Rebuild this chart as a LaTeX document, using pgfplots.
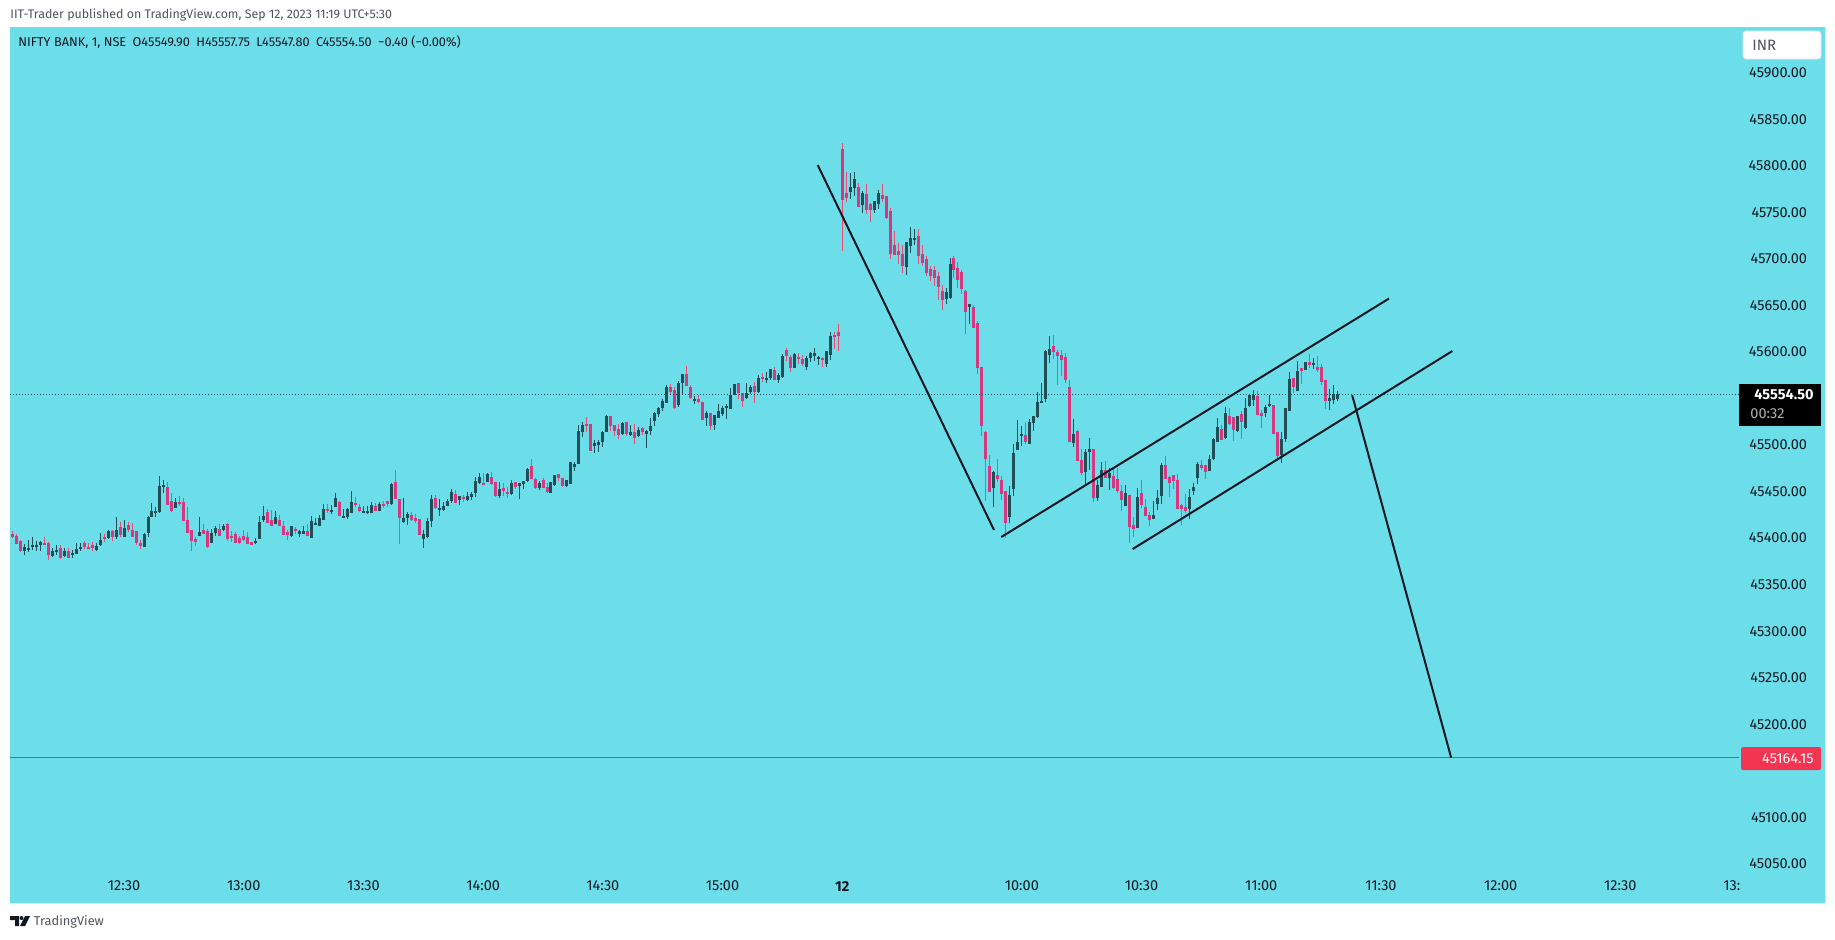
\documentclass[border=0pt]{standalone}
\usepackage{fontspec}
\usepackage{pgfplots}
\usepackage{pgfplotstable}
\pgfplotsset{compat=1.18}
\setmainfont{Fira Sans}
\definecolor{bgc}{HTML}{6BDEEA}
\definecolor{upc}{HTML}{1F4E56}
\definecolor{dnb}{HTML}{D5387E}
\definecolor{dnw}{HTML}{EE4B73}
\definecolor{frame}{HTML}{E0E3EB}
\definecolor{txt}{HTML}{131722}
\definecolor{hdr}{HTML}{50535E}
\definecolor{lvl}{HTML}{F23645}
\pgfplotstableread{
k o h l c
-1 45386.1 45393.7 45381.8 45390.4
0 45388.3 45398.0 45385.1 45389.4
1 45390.4 45401.2 45387.2 45392.6
2 45391.5 45396.9 45386.1 45392.6
3 45392.6 45396.9 45386.1 45395.8
6 45380.8 45389.4 45379.7 45386.1
7 45385.1 45392.6 45381.8 45387.2
9 45380.8 45389.4 45379.7 45386.1
11 45381.8 45387.2 45378.6 45384.0
12 45382.9 45394.7 45382.9 45388.3
13 45388.3 45394.7 45386.1 45390.4
17 45387.2 45394.7 45386.1 45391.5
18 45392.6 45405.5 45391.5 45398.0
20 45400.1 45408.7 45399.0 45407.6
22 45401.2 45422.7 45399.0 45408.7
24 45401.5 45419.4 45401.2 45410.9
29 45390.4 45405.5 45390.4 45404.4
30 45405.5 45423.7 45401.2 45422.7
31 45422.7 45437.7 45422.7 45429.1
32 45427.0 45433.4 45422.7 45429.1
33 45428.0 45466.7 45427.0 45456.0
34 45454.9 45462.4 45448.4 45457.0
37 45432.3 45443.1 45432.3 45438.8
43 45402.3 45422.7 45402.3 45406.6
46 45394.7 45409.8 45394.7 45405.5
47 45405.5 45413.0 45402.3 45410.9
49 45408.7 45415.1 45407.6 45413.0
57 45394.7 45400.1 45393.7 45396.9
58 45399.0 45423.7 45399.0 45417.3
59 45419.4 45434.5 45417.3 45423.7
62 45415.1 45429.1 45415.1 45422.7
66 45402.3 45413.0 45401.2 45413.0
68 45404.4 45408.7 45401.2 45407.6
69 45404.4 45413.0 45404.4 45407.6
71 45400.1 45423.8 45400.1 45418.4
72 45414.1 45421.6 45414.1 45416.2
73 45413.0 45424.8 45413.0 45421.6
74 45419.5 45436.6 45419.5 45431.3
76 45428.1 45435.6 45425.9 45430.2
77 45433.4 45448.5 45433.4 45443.1
79 45422.7 45431.3 45422.7 45423.8
80 45422.7 45432.4 45420.5 45431.3
81 45427.0 45450.6 45427.0 45438.8
84 45427.0 45434.5 45427.0 45429.1
85 45427.0 45434.5 45425.9 45429.1
86 45427.0 45438.8 45427.0 45435.6
88 45429.1 45438.8 45429.1 45436.6
91 45436.6 45459.2 45435.6 45458.1
94 45417.3 45443.1 45416.2 45421.6
95 45421.6 45428.1 45414.1 45425.9
99 45399.0 45408.7 45389.4 45404.4
100 45401.2 45421.6 45400.1 45418.4
101 45418.4 45446.3 45411.9 45442.0
103 45431.3 45442.0 45423.8 45432.4
104 45430.2 45438.8 45429.1 45434.5
105 45434.5 45442.0 45434.5 45439.9
106 45439.9 45452.8 45437.7 45449.5
108 45440.9 45445.2 45435.6 45445.2
110 45440.9 45449.5 45439.9 45445.2
111 45444.2 45449.5 45440.9 45447.4
112 45448.5 45465.7 45444.2 45461.4
113 45459.2 45469.9 45458.1 45465.7
115 45460.3 45469.9 45460.3 45468.9
118 45445.2 45460.3 45443.1 45452.8
121 45447.4 45462.4 45446.3 45459.2
123 45456.0 45459.2 45442.0 45459.2
124 45458.1 45461.4 45452.8 45461.4
125 45461.4 45475.3 45460.3 45474.2
128 45453.8 45461.4 45451.7 45459.2
131 45448.5 45460.3 45448.5 45460.3
132 45457.1 45467.8 45456.0 45467.8
135 45456.0 45462.4 45454.9 45462.4
136 45458.1 45481.8 45458.1 45481.8
137 45476.4 45481.8 45472.1 45479.6
138 45479.6 45521.5 45479.6 45515.1
139 45514.0 45524.7 45508.6 45521.5
142 45498.9 45505.4 45491.4 45502.2
143 45500.0 45505.4 45492.5 45503.2
144 45503.2 45515.1 45497.9 45514.0
145 45514.0 45532.2 45514.0 45531.2
149 45511.8 45524.7 45510.8 45523.6
151 45510.8 45521.5 45509.7 45514.0
153 45509.7 45519.3 45508.6 45516.1
155 45511.8 45516.1 45496.8 45515.1
156 45515.1 45529.0 45510.8 45520.4
157 45525.8 45535.5 45520.4 45534.4
158 45533.3 45540.8 45530.1 45539.8
159 45539.8 45549.4 45536.5 45547.3
160 45545.1 45564.5 45545.1 45562.3
163 45543.0 45568.8 45540.8 45566.6
164 45566.6 45576.3 45554.8 45576.3
167 45547.3 45552.6 45544.1 45549.4
170 45529.0 45536.5 45520.4 45534.4
172 45521.5 45532.2 45516.1 45532.2
173 45529.0 45544.1 45529.0 45536.5
174 45533.3 45541.9 45531.2 45539.8
175 45539.8 45544.1 45527.9 45541.9
176 45538.7 45561.2 45538.7 45553.7
177 45553.7 45565.5 45553.7 45565.5
180 45550.5 45566.6 45549.4 45555.9
181 45556.9 45564.5 45554.8 45562.3
183 45556.9 45575.2 45555.9 45572.0
185 45570.9 45578.4 45566.6 45572.0
186 45572.0 45581.7 45569.9 45581.7
188 45569.9 45577.4 45566.6 45575.2
189 45573.1 45597.8 45572.0 45595.6
192 45582.7 45598.8 45582.7 45597.8
195 45583.8 45595.6 45580.6 45593.5
196 45593.5 45599.9 45589.2 45598.8
197 45595.6 45604.2 45590.2 45598.8
198 45592.4 45595.6 45586.0 45594.5
200 45587.0 45601.0 45583.8 45601.0
201 45596.7 45621.4 45591.3 45617.1
206 45771.8 45792.2 45764.3 45777.2
207 45776.1 45793.3 45767.5 45785.8
209 45757.8 45772.9 45749.2 45770.7
212 45752.5 45762.1 45749.2 45762.1
213 45758.9 45773.9 45753.5 45770.7
220 45691.2 45718.1 45682.6 45718.1
221 45713.8 45734.2 45706.3 45722.4
222 45720.2 45732.1 45714.9 45722.4
230 45656.9 45668.7 45651.5 45664.4
231 45658.0 45700.9 45656.9 45694.5
236 45648.3 45651.5 45630.0 45651.5
242 45453.9 45472.1 45433.5 45471.1
246 45422.7 45456.0 45416.3 45446.4
247 45452.8 45501.2 45445.3 45491.5
248 45494.7 45526.9 45494.7 45503.3
249 45509.7 45520.5 45499.0 45511.9
251 45501.2 45528.0 45501.2 45524.8
252 45523.7 45531.2 45515.1 45531.2
253 45530.2 45557.0 45529.1 45546.3
254 45545.2 45566.7 45545.2 45547.3
255 45549.5 45602.1 45546.2 45601.0
256 45596.7 45617.1 45588.1 45603.2
262 45502.2 45528.0 45497.9 45511.9
265 45471.1 45495.8 45458.2 45492.6
266 45492.6 45507.6 45473.2 45495.8
268 45443.1 45462.5 45439.9 45457.1
269 45454.9 45481.8 45454.9 45473.2
271 45464.6 45475.4 45451.7 45470.0
275 45434.5 45457.1 45434.5 45448.5
278 45410.9 45453.9 45410.9 45444.2
282 45420.6 45439.9 45420.6 45424.9
283 45436.7 45451.7 45430.2 45443.1
284 45445.3 45480.7 45436.7 45478.6
291 45431.3 45452.8 45420.6 45444.2
292 45450.6 45459.2 45446.4 45454.9
293 45464.6 45481.8 45458.2 45479.7
296 45472.1 45489.3 45472.1 45485.0
297 45485.0 45507.5 45483.9 45506.4
298 45503.2 45529.0 45503.2 45519.3
300 45507.5 45540.8 45506.4 45534.4
303 45515.0 45531.2 45514.0 45531.2
305 45518.3 45550.5 45517.2 45539.8
306 45541.9 45553.7 45540.8 45553.7
307 45548.3 45559.1 45541.9 45553.7
310 45534.4 45543.0 45530.1 45540.8
311 45541.9 45553.7 45540.8 45544.0
314 45489.3 45514.0 45480.7 45506.4
315 45506.4 45539.8 45503.2 45539.8
316 45536.5 45578.4 45536.5 45570.9
318 45558.0 45590.2 45558.0 45579.5
320 45580.6 45589.2 45580.6 45589.2
322 45587.0 45593.5 45581.6 45588.1
326 45547.3 45560.2 45537.6 45550.5
327 45548.3 45564.5 45544.0 45554.8
328 45549.90 45557.75 45547.80 45554.50
}\upbars
\pgfplotstableread{
k o h l c
-4 45404.4 45407.6 45400.1 45401.2
-3 45402.3 45404.1 45393.7 45393.7
-2 45396.9 45398.0 45385.0 45386.1
4 45394.7 45401.2 45392.6 45392.6
5 45394.7 45395.8 45376.5 45381.8
8 45389.4 45392.6 45377.5 45378.6
10 45386.1 45389.4 45378.6 45378.6
14 45394.7 45396.9 45388.3 45390.4
15 45390.4 45394.7 45388.3 45389.4
16 45392.6 45395.8 45386.1 45389.4
19 45401.2 45404.4 45395.8 45399.0
21 45407.6 45408.7 45396.9 45401.2
23 45411.9 45417.3 45401.2 45403.3
25 45414.1 45417.3 45406.6 45408.7
26 45408.7 45416.2 45401.2 45401.2
27 45407.6 45407.6 45392.6 45394.7
28 45394.7 45398.0 45388.3 45391.5
35 45454.9 45460.3 45435.6 45435.6
36 45439.9 45448.4 45428.0 45429.1
38 45438.8 45445.2 45434.5 45437.7
39 45438.8 45443.1 45418.4 45418.4
40 45419.4 45433.4 45405.5 45405.5
41 45408.7 45408.7 45386.1 45396.9
42 45399.0 45401.2 45391.5 45395.8
44 45408.7 45415.1 45404.4 45404.4
45 45407.6 45409.8 45389.4 45390.4
48 45409.8 45415.1 45402.3 45402.3
50 45415.1 45416.2 45396.9 45399.0
51 45402.3 45407.6 45395.8 45401.2
52 45404.4 45406.6 45394.7 45394.7
53 45400.1 45402.3 45393.7 45394.7
54 45402.3 45408.7 45396.9 45398.0
55 45401.2 45406.6 45393.7 45393.7
56 45395.8 45395.8 45392.6 45392.6
60 45428.0 45431.3 45416.2 45416.2
61 45419.4 45430.2 45413.0 45413.0
63 45419.4 45424.8 45413.0 45413.0
64 45413.0 45418.4 45403.3 45403.3
65 45406.6 45408.7 45398.0 45403.3
67 45409.8 45411.9 45404.4 45407.6
70 45407.6 45415.1 45402.3 45402.3
75 45431.3 45436.6 45427.0 45430.2
78 45438.8 45439.9 45423.8 45423.8
82 45437.7 45444.2 45433.4 45435.6
83 45433.4 45436.6 45428.1 45429.1
87 45434.5 45437.7 45429.1 45429.1
89 45436.6 45439.9 45432.4 45434.5
90 45439.9 45439.9 45433.4 45436.6
92 45460.3 45473.2 45442.0 45442.0
93 45442.0 45442.0 45393.7 45421.6
96 45424.8 45428.1 45418.4 45419.5
97 45421.6 45425.9 45416.2 45418.4
98 45420.5 45420.5 45403.3 45403.3
102 45443.1 45446.3 45431.3 45432.4
107 45447.4 45451.7 45437.7 45437.7
109 45444.2 45446.3 45438.8 45442.0
114 45459.2 45469.9 45457.1 45458.1
116 45465.7 45471.0 45457.1 45458.1
117 45460.3 45460.3 45444.2 45445.2
119 45453.8 45459.2 45445.2 45450.6
120 45449.5 45454.9 45443.1 45447.4
122 45460.3 45460.3 45452.8 45454.9
126 45477.5 45485.0 45463.5 45463.5
127 45463.5 45464.6 45452.8 45453.8
129 45462.4 45464.6 45453.8 45453.8
130 45454.9 45459.2 45448.5 45449.5
133 45468.9 45468.9 45461.4 45464.6
134 45464.6 45464.6 45454.9 45456.0
140 45522.6 45530.1 45514.0 45521.5
141 45522.6 45522.6 45493.6 45493.6
146 45531.2 45531.2 45515.1 45520.4
147 45521.5 45521.5 45509.7 45515.1
148 45517.2 45522.6 45506.5 45510.8
150 45524.7 45524.7 45509.7 45511.8
152 45514.0 45522.6 45501.1 45507.5
154 45518.3 45519.3 45510.8 45514.0
161 45562.3 45565.5 45553.7 45556.9
162 45559.1 45562.3 45538.7 45539.8
165 45576.3 45584.9 45563.4 45563.4
166 45562.3 45564.5 45549.4 45550.5
168 45549.4 45553.7 45545.1 45546.2
169 45546.2 45546.2 45526.9 45526.9
171 45534.4 45534.4 45516.1 45520.4
178 45566.6 45566.6 45549.4 45555.9
179 45555.9 45555.9 45540.8 45547.3
182 45563.4 45567.7 45545.1 45556.9
184 45573.1 45577.4 45567.7 45572.0
187 45580.6 45583.8 45569.9 45569.9
190 45602.1 45604.2 45590.2 45595.6
191 45594.5 45596.7 45578.4 45582.7
193 45594.5 45598.8 45587.0 45592.4
194 45592.4 45596.7 45584.9 45587.0
199 45593.5 45594.5 45583.8 45591.3
202 45618.2 45621.4 45603.1 45616.0
203 45621.4 45630.0 45601.0 45617.1
204 45818.0 45824.4 45708.4 45763.2
205 45770.7 45793.3 45761.1 45765.4
208 45777.2 45781.5 45755.7 45755.7
210 45769.7 45780.4 45748.2 45752.5
211 45758.9 45760.0 45739.6 45752.5
214 45768.6 45780.4 45761.1 45764.3
215 45767.5 45767.5 45742.8 45743.9
216 45751.4 45754.6 45699.8 45705.2
217 45714.9 45729.9 45704.1 45704.1
218 45708.4 45717.0 45694.5 45704.1
219 45705.2 45714.9 45684.8 45692.3
223 45724.5 45732.1 45694.5 45703.1
224 45705.2 45714.9 45692.3 45695.5
225 45699.8 45703.1 45681.6 45684.8
226 45689.1 45692.3 45676.2 45681.6
227 45688.0 45692.3 45670.8 45679.4
228 45681.6 45685.9 45655.8 45669.8
229 45665.5 45671.9 45645.1 45655.8
232 45700.9 45703.1 45679.4 45688.0
233 45690.2 45696.6 45668.7 45677.3
234 45685.9 45688.0 45662.2 45667.6
235 45665.5 45666.5 45619.3 45643.0
237 45648.3 45650.5 45625.7 45625.7
238 45631.1 45633.3 45576.3 45582.8
239 45583.8 45583.8 45509.7 45520.5
240 45514.0 45515.1 45439.9 45485.0
241 45477.5 45489.3 45449.6 45449.6
243 45467.9 45485.0 45460.3 45463.5
244 45462.5 45466.8 45441.0 45447.4
245 45450.6 45450.6 45400.2 45416.3
250 45510.8 45524.8 45501.2 45503.3
257 45606.4 45618.2 45592.4 45599.9
258 45599.9 45602.1 45564.5 45595.6
259 45596.7 45602.1 45574.2 45591.4
260 45594.6 45598.9 45566.6 45569.8
261 45562.4 45569.8 45503.3 45503.3
263 45515.1 45516.2 45482.9 45482.9
264 45484.0 45495.8 45467.9 45470.0
267 45495.8 45495.8 45438.8 45443.1
270 45473.2 45482.9 45464.6 45464.6
272 45466.8 45474.3 45452.8 45453.9
273 45463.5 45475.4 45448.5 45450.6
274 45450.6 45457.1 45429.2 45441.0
276 45446.4 45446.4 45394.8 45412.0
277 45414.1 45422.7 45401.2 45409.8
279 45448.5 45462.5 45432.4 45435.6
280 45433.5 45442.1 45423.8 45423.8
281 45424.9 45428.1 45413.1 45419.5
285 45478.6 45488.3 45463.5 45463.5
286 45465.7 45466.8 45444.2 45459.2
287 45467.9 45467.9 45452.8 45461.4
288 45462.5 45468.9 45431.3 45431.3
289 45435.6 45436.7 45414.1 45431.3
290 45433.5 45447.4 45427.0 45429.2
294 45478.5 45483.9 45473.1 45475.3
295 45478.5 45478.5 45463.5 45471.0
299 45517.2 45521.5 45505.4 45505.4
301 45531.2 45539.8 45521.5 45522.6
302 45530.1 45530.1 45504.3 45516.1
304 45533.3 45536.5 45506.4 45524.7
308 45552.6 45558.0 45532.2 45532.2
309 45534.4 45537.6 45518.3 45531.2
312 45543.0 45543.0 45511.8 45511.8
313 45514.0 45514.0 45483.9 45488.2
317 45572.0 45572.0 45555.9 45562.3
319 45582.7 45582.7 45565.5 45579.5
321 45589.2 45597.8 45582.7 45585.9
323 45583.8 45595.6 45578.4 45580.6
324 45583.8 45587.0 45564.5 45567.7
325 45569.8 45569.8 45538.7 45547.3
}\dnbars
\pgfplotsset{
  wick/.style={draw=none, no markers, forget plot,
    error bars/.cd, y dir=both, y explicit, error mark=none,
    error bar style={draw=#1, solid, line width=0.5pt}},
  body/.style={draw=none, no markers, forget plot,
    error bars/.cd, y dir=both, y explicit, error mark=none,
    error bar style={draw=#1, solid, line width=1.5pt}},
}
\newcommand{\wicks}[2]{\addplot[wick=#2] table[x=k,
  y expr={(\thisrow{h}+\thisrow{l})/2},
  y error plus expr={(\thisrow{h}-\thisrow{l})/2},
  y error minus expr={(\thisrow{h}-\thisrow{l})/2}] {#1};}
\newcommand{\bodies}[2]{\addplot[body=#2] table[x=k,
  y expr={(\thisrow{o}+\thisrow{c})/2},
  y error plus expr={abs(\thisrow{o}-\thisrow{c})/2},
  y error minus expr={abs(\thisrow{o}-\thisrow{c})/2}] {#1};}
\begin{document}
\begin{tikzpicture}
\path[use as bounding box] (0pt,0pt) rectangle (917.5pt,-469.5pt);
\begin{axis}[
  at={(5pt,-451.5pt)}, anchor=south west,
  scale only axis, width=907.5pt, height=438pt,
  xmin=-4.586, xmax=450.3, ymin=45007.98, ymax=45949.1,
  axis background/.style={fill=bgc},
  axis line style={color=frame, line width=0.5pt},
  major tick length=0pt,
  axis y line*=right,
  axis x line*=bottom,
  axis line style={-},
  scaled y ticks=false,
  scaled x ticks=false,
  xtick={24,54,84,114,144,174,204,249,279,309,339,369,399,429},
  xticklabels={12:30,13:00,13:30,14:00,14:30,15:00,\textbf{12},10:00,10:30,11:00,11:30,12:00,12:30,\rlap{13:}\phantom{13:00}},
  ytick={45050,45100,45200,45250,45300,45350,45400,45450,45500,45600,45650,45700,45750,45800,45850,45900},
  yticklabels={45050.00,45100.00,45200.00,45250.00,45300.00,45350.00,45400.00,45450.00,45500.00,45600.00,45650.00,45700.00,45750.00,45800.00,45850.00,45900.00},
  tick label style={font=\fontsize{7.25}{8.5}\selectfont, text=txt},
  yticklabel style={anchor=east, xshift=-5.5pt},
  xticklabel style={anchor=center, yshift=8.5pt},
  clip=true,
]
\wicks{\upbars}{upc}
\wicks{\dnbars}{dnw}
\bodies{\upbars}{upc}
\bodies{\dnbars}{dnb}
\addplot[forget plot, no markers, draw=upc, line width=0.5pt, dash pattern=on 0.5pt off 1pt] coordinates {(-4.586,45554.5) (428.7,45554.5)};
\addplot[forget plot, no markers, draw=lvl, line width=0.8pt] coordinates {(-4.586,45164.15) (428.7,45164.15)};
\addplot[forget plot, no markers, draw=txt, line width=1pt] coordinates {(197.84,45800.8) (242.03,45408.7)};
\addplot[forget plot, no markers, draw=txt, line width=1pt] coordinates {(243.86,45401.2) (341.03,45657.4)};
\addplot[forget plot, no markers, draw=txt, line width=1pt] coordinates {(276.8,45388.3) (356.9,45601.0)};
\addplot[forget plot, no markers, draw=txt, line width=1pt] coordinates {(331.8,45553.4) (356.6,45164.15)};
\end{axis}
\begin{scope}[x=0.5pt, y=-0.5pt]
\node[anchor=west, inner sep=0pt, text=hdr, font=\fontsize{6.2}{8}\selectfont] at (10,15) {IIT-Trader published on TradingView.com, Sep 12, 2023 11:19 UTC+5:30};
\node[anchor=west, inner sep=0pt, text=txt, font=\fontsize{6.38}{8}\selectfont] at (18,42) {NIFTY BANK, 1, NSE\hspace{0.5em}O45549.90\hspace{0.5em}H45557.75\hspace{0.5em}L45547.80\hspace{0.5em}C45554.50\hspace{0.5em}−0.40 (−0.00\%)};
\fill[white, rounded corners=1.5pt] (1743,31) rectangle (1821,59);
\draw[frame, line width=0.4pt, rounded corners=1.5pt] (1743,31) rectangle (1821,59);
\node[anchor=west, inner sep=0pt, text=hdr, font=\fontsize{7.5}{9}\selectfont] at (1752,45) {INR};
\fill[black] (1739,384) rectangle (1821,426);
\node[anchor=east, inner sep=0pt, text=white, font=\fontsize{7.25}{8.5}\selectfont\bfseries] at (1814,395) {45554.50};
\node[anchor=west, inner sep=0pt, text=black!30, font=\fontsize{7.25}{8.5}\selectfont] at (1750,414) {00:32};
\fill[dnw!70!red, rounded corners=1pt] (1741,747) rectangle (1821,770);
\node[anchor=east, inner sep=0pt, text=white, font=\fontsize{7.25}{8.5}\selectfont] at (1814,758.5) {45164.15};
\fill[txt] (10,916) -- (19,916) -- (19,926) -- (15,926) -- (15,920) -- (10,920) -- cycle;
\fill[txt] (21.5,918) circle[radius=2];
\fill[txt] (25,916) -- (30,916) -- (25,926) -- (20,926) -- cycle;
\node[anchor=west, inner sep=0pt, text=hdr, font=\fontsize{6.4}{8}\selectfont] at (33.5,921.5) {TradingView};
\end{scope}
\end{tikzpicture}
\end{document}
